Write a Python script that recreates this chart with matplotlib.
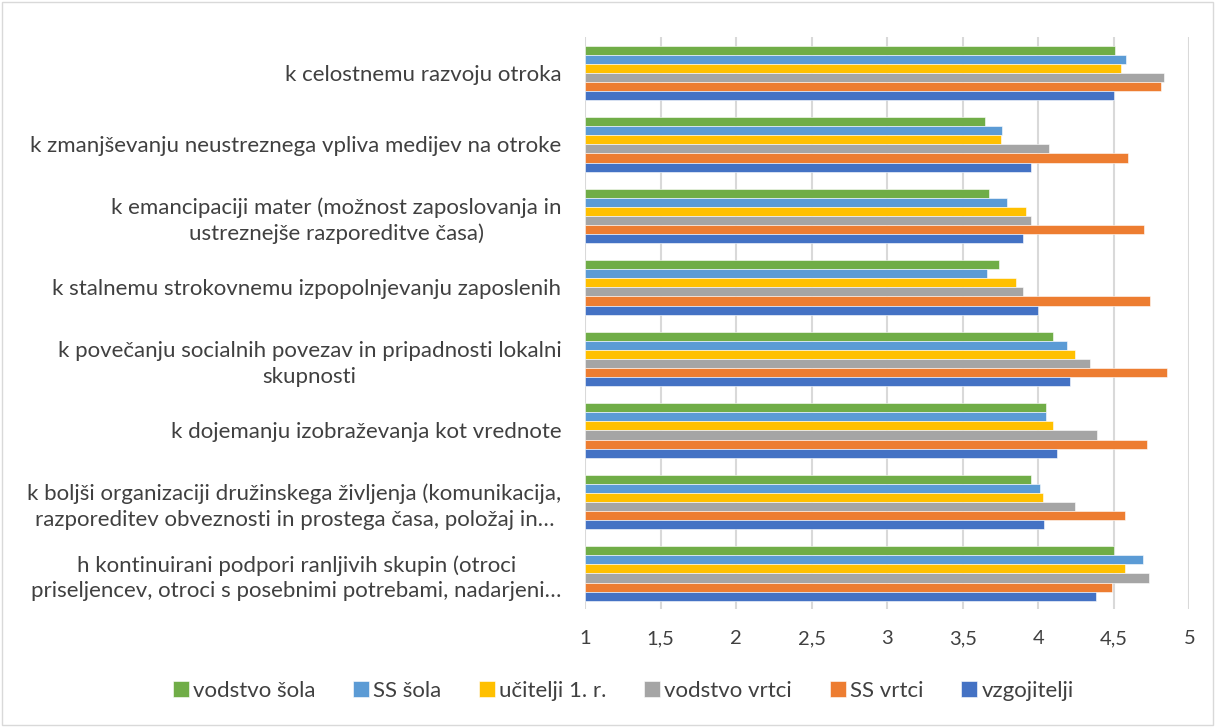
import numpy as np
import matplotlib.pyplot as plt
from matplotlib.patches import Rectangle

plt.rcParams['font.family'] = ['Lato', 'DejaVu Sans']

# Kategorije (od zgoraj navzdol)
kategorije = [
    "k celostnemu razvoju otroka",
    "k zmanjševanju neustreznega vpliva medijev na otroke",
    "k emancipaciji mater (možnost zaposlovanja in\nustreznejše razporeditve časa)",
    "k stalnemu strokovnemu izpopolnjevanju zaposlenih",
    "k povečanju socialnih povezav in pripadnosti lokalni\nskupnosti",
    "k dojemanju izobraževanja kot vrednote",
    "k boljši organizaciji družinskega življenja (komunikacija,\nrazporeditev obveznosti in prostega časa, položaj in…",
    "h kontinuirani podpori ranljivih skupin (otroci\npriseljencev, otroci s posebnimi potrebami, nadarjeni…",
]

# Povprečne ocene po skupinah
vodstvo_sola = [4.51, 3.65, 3.67, 3.74, 4.10, 4.05, 3.95, 4.50]
ss_sola = [4.58, 3.76, 3.79, 3.66, 4.19, 4.05, 4.01, 4.69]
ucitelji_1r = [4.55, 3.75, 3.92, 3.85, 4.24, 4.10, 4.03, 4.57]
vodstvo_vrtci = [4.83, 4.07, 3.95, 3.90, 4.34, 4.39, 4.24, 4.73]
ss_vrtci = [4.81, 4.59, 4.70, 4.74, 4.85, 4.72, 4.57, 4.49]
vzgojitelji = [4.50, 3.95, 3.90, 4.00, 4.21, 4.12, 4.04, 4.38]

serije = [vodstvo_sola, ss_sola, ucitelji_1r, vodstvo_vrtci, ss_vrtci, vzgojitelji]
imena = ['vodstvo šola', 'SS šola', 'učitelji 1. r.', 'vodstvo vrtci', 'SS vrtci', 'vzgojitelji']
barve = ['#70AD47', '#5B9BD5', '#FFC000', '#A5A5A5', '#ED7D31', '#4472C4']

xticks = [1, 1.5, 2, 2.5, 3, 3.5, 4, 4.5, 5]
xtick_labels = ['1', '1,5', '2', '2,5', '3', '3,5', '4', '4,5', '5']

fig = plt.figure(figsize=(12.15, 7.27), dpi=100)
ax = fig.add_axes([0.4815, 0.162, 0.4975, 0.787])

y = np.arange(len(kategorije))
h = 0.127
for i, (vals, ime, barva) in enumerate(zip(serije, imena, barve)):
    off = (i - 2.5) * h
    ax.barh(y + off, np.array(vals) - 1, left=1, height=h, color=barva,
            edgecolor='white', linewidth=0.4, label=ime, zorder=3)

ax.set_ylim(len(kategorije) - 0.5, -0.5)
ax.set_xlim(1, 5)
ax.set_yticks(y)
ax.set_yticklabels(kategorije, fontsize=16, color='#404040', multialignment='center',
                   linespacing=1.35)
ax.set_xticks(xticks)
ax.set_xticklabels(xtick_labels, fontsize=14.5, color='#404040')
ax.tick_params(length=0)
ax.tick_params(axis='x', pad=15)
ax.tick_params(axis='y', pad=17)
ax.grid(axis='x', color='#D9D9D9', linewidth=1.5, zorder=0)
for s in ax.spines.values():
    s.set_visible(False)

fig.legend(loc='center', bbox_to_anchor=(0.513, 0.05), ncol=6, frameon=False,
           fontsize=16, handlelength=0.7, handleheight=0.7, handletextpad=0.2,
           columnspacing=1.7, labelcolor='#404040')

fig.patches.append(Rectangle((0.002, 0.003), 0.996, 0.994, transform=fig.transFigure,
                             fill=False, edgecolor='#D9D9D9', linewidth=1))

plt.savefig('out.png', dpi=100)
